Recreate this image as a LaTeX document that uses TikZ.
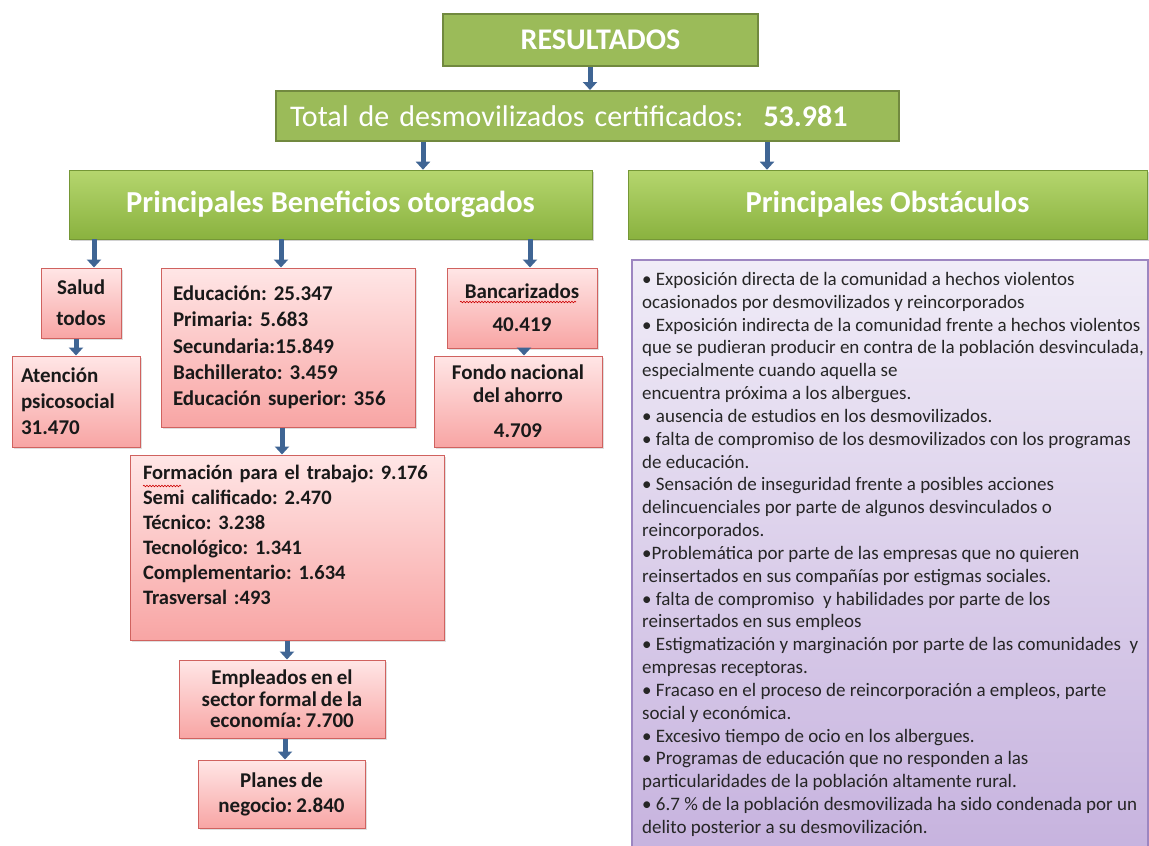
\documentclass[tikz,border=0pt]{standalone}
\usepackage{fontspec}
\setmainfont{Carlito}
\frenchspacing
\usetikzlibrary{arrows.meta,shadows,decorations.pathmorphing}
\newcommand\pkfont[2]{\fontsize{#1}{#2}\selectfont\bfseries\spaceskip=0.19em plus 0.05em minus 0.05em\relax}
\definecolor{grnfill}{HTML}{9BBB59}
\definecolor{grnline}{HTML}{71893F}
\definecolor{grntop}{HTML}{B5D66E}
\definecolor{grnbot}{HTML}{8AB23F}
\definecolor{pinktop}{HTML}{FFE6E6}
\definecolor{pinkbot}{HTML}{F8A5A4}
\definecolor{pinkline}{HTML}{D0625F}
\definecolor{purtop}{HTML}{F0ECF7}
\definecolor{purbot}{HTML}{C6B2DE}
\definecolor{purline}{HTML}{9D86C1}
\definecolor{arrblue}{HTML}{3F6594}
\tikzset{
  greenbox/.style={draw=grnline, line width=2pt, fill=grnfill, text=white, inner sep=0pt},
  gradbox/.style={draw=grnbot!85!black, line width=0.6pt, fill=grnfill, top color=grntop, bottom color=grnbot, text=white, inner sep=0pt,
    drop shadow={opacity=0.35, shadow xshift=1.5pt, shadow yshift=-2pt}},
  pinkbox/.style={draw=pinkline, line width=1pt, top color=pinktop, bottom color=pinkbot, text=black!90,
    inner sep=0pt,
    drop shadow={opacity=0.25, shadow xshift=2pt, shadow yshift=-2pt}},
  arr/.style={draw=arrblue, line width=5pt, -{Triangle[width=14pt,length=8pt]}},
  squig/.style={draw=red!80!black, line width=0.6pt, decorate,
    decoration={snake, amplitude=0.8pt, segment length=3pt}},
}
\begin{document}
\begin{tikzpicture}[x=1pt,y=-1pt]
\useasboundingbox[fill=white] (0,0) rectangle (1149,846);

% right panel
\node[draw=purline, line width=1.5pt, top color=purtop, bottom color=purbot,
  minimum width=516pt, minimum height=600pt, inner sep=0pt, anchor=north west] (panel) at (631,259) {};
\node[anchor=north west, inner sep=0pt, align=left, text=black!85,
  font=\fontsize{19}{22.83}\selectfont] (obstxt) at (642,272) {%
• Exposición directa de la comunidad a hechos violentos\\
ocasionados por desmovilizados y reincorporados\\
• Exposición indirecta de la comunidad frente a hechos violentos\\
que se pudieran producir en contra de la población desvinculada,\\
especialmente cuando aquella se\\
encuentra próxima a los albergues.\\
• ausencia de estudios en los desmovilizados.\\
• falta de compromiso de los desmovilizados con los programas\\
de educación.\\
• Sensación de inseguridad frente a posibles acciones\\
delincuenciales por parte de algunos desvinculados o\\
reincorporados.\\
•Problemática por parte de las empresas que no quieren\\
reinsertados en sus compañías por estigmas sociales.\\
• falta de compromiso \ y habilidades por parte de los\\
reinsertados en sus empleos\\
• Estigmatización y marginación por parte de las comunidades \ y\\
empresas receptoras.\\
• Fracaso en el proceso de reincorporación a empleos, parte\\
social y económica.\\
• Excesivo tiempo de ocio en los albergues.\\
• Programas de educación que no responden a las\\
particularidades de la población altamente rural.\\
• 6.7 \% de la población desmovilizada ha sido condenada por un\\
delito posterior a su desmovilización.};

% green headers
\node[greenbox, minimum width=315pt, minimum height=52pt,
  font=\fontsize{30}{34}\selectfont\bfseries] (res) at (600.5,39.5) {RESULTADOS};
\node[greenbox, minimum width=623pt, minimum height=50pt, text width=595pt, align=left,
  font=\fontsize{30}{34}\selectfont] (tot) at (587.5,116) {Total de desmovilizados certificados: \ \textbf{53.981}};
\node[gradbox, minimum width=523pt, minimum height=69pt,
  font=\fontsize{30.5}{34}\selectfont\bfseries] (ben) at (330.5,204.5) {Principales Beneficios otorgados};
\node[gradbox, minimum width=519pt, minimum height=69pt,
  font=\fontsize{30.5}{34}\selectfont\bfseries] (obs) at (887.5,204.5) {Principales Obstáculos};

% pink boxes
\node[pinkbox, minimum width=80pt, minimum height=70pt, align=center,
  font=\pkfont{21}{31}] (salud) at (81,303) {Salud\\todos};
\node[pinkbox, minimum width=128pt, minimum height=91pt, text width=110pt, align=left,
  font=\pkfont{21}{26}] (aten) at (76,401.5) {Atención\\psicosocial\\31.470};
\node[pinkbox, minimum width=254pt, minimum height=159pt, text width=230pt, align=left,
  font=\pkfont{21}{26.3}] (edu) at (288,347.5)
  {Educación: 25.347\\Primaria: 5.683\\Secundaria:15.849\\Bachillerato: 3.459\\Educación superior: 356};
\node[pinkbox, minimum width=150pt, minimum height=80pt, align=center,
  font=\pkfont{21}{26}] (banc) at (522,308) {Bancarizados\\[7pt]40.419};
\node[pinkbox, minimum width=168pt, minimum height=91pt, align=center,
  font=\pkfont{21}{23}] (fondo) at (518,401.5) {Fondo nacional\\del ahorro\\[12pt]4.709};
\node[pinkbox, minimum width=314pt, minimum height=185pt, text width=288pt, align=left,
  font=\pkfont{20.5}{25}] (form) at (287,547.5)
  {Formación para el trabajo: 9.176\\Semi calificado: 2.470\\Técnico: 3.238\\Tecnológico: 1.341\\Complementario: 1.634\\Trasversal :493\\ \mbox{}};
\node[pinkbox, minimum width=206pt, minimum height=78pt, align=center,
  font=\pkfont{21}{21.5}] (emp) at (282,699)
  {Empleados en el\\sector formal de la\\economía: 7.700};
\node[pinkbox, minimum width=167pt, minimum height=68pt, align=center,
  font=\pkfont{21}{25}] (plan) at (281.5,794) {Planes de\\negocio: 2.840};

% spelling marks
\draw[squig] (460,302) -- (576,302);
\draw[squig] (143,486) -- (181,486);

% arrows
\draw[arr] (res.south -| 590,0) -- (tot.north -| 590,0);
\draw[arr] (tot.south -| 423,0) -- (ben.north -| 423,0);
\draw[arr] (tot.south -| 767,0) -- (obs.north -| 767,0);
\draw[arr] (ben.south -| 94,0) -- (salud.north -| 94,0);
\draw[arr] (ben.south -| 281,0) -- (edu.north -| 281,0);
\draw[arr] (ben.south -| 530,0) -- (banc.north -| 530,0);
\draw[arr] (salud.south -| 76,0) -- (aten.north -| 76,0);
\draw[arr] (banc.south -| 524,0) -- (fondo.north -| 524,0);
\draw[arr] (edu.south -| 282,0) -- (form.north -| 282,0);
\draw[arr] (form.south -| 287,0) -- (emp.north -| 287,0);
\draw[arr] (emp.south -| 285,0) -- (plan.north -| 285,0);
\end{tikzpicture}
\end{document}
